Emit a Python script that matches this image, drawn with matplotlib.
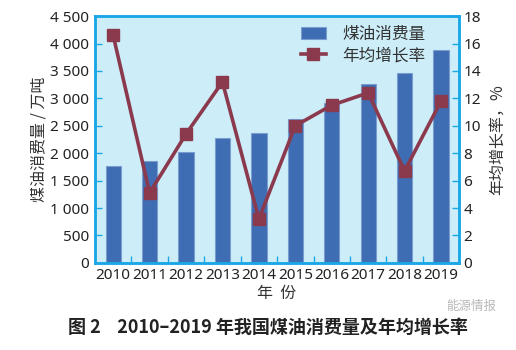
import matplotlib
matplotlib.use("Agg")
import matplotlib.pyplot as plt
from matplotlib.ticker import FuncFormatter, FixedLocator
import numpy as np

plt.rcParams['font.family'] = ['Noto Sans', 'Noto Sans CJK SC', 'DejaVu Sans']

years = ['2010', '2011', '2012', '2013', '2014', '2015', '2016', '2017', '2018', '2019']
consumption = [1760, 1850, 2030, 2280, 2370, 2620, 2920, 3260, 3470, 3880]
growth = [16.6, 5.1, 9.4, 13.2, 3.2, 10.0, 11.5, 12.4, 6.7, 11.8]

bar_color = '#3f6db3'
line_color = '#8b3a4e'
spine_color = '#1aa7e6'
bg_color = '#cdeef9'
cjk = ['Noto Sans CJK SC', 'DejaVu Sans']

fig = plt.figure(figsize=(5.16, 3.5), dpi=100)
ax = fig.add_axes([0.184, 0.249, 0.706, 0.705])
ax.set_facecolor(bg_color)
x = np.arange(len(years))

ax.bar(x, consumption, width=0.42, color=bar_color, edgecolor='#7a9dd0',
       linewidth=0.8, label='煤油消费量', zorder=2)
ax.set_xlim(-0.5, len(years) - 0.5)
ax.set_ylim(0, 4500)
ax.set_yticks(np.arange(0, 4501, 500))
ax.yaxis.set_major_formatter(FuncFormatter(lambda v, p: f"{int(v):,}".replace(',', ' ')))
ax.set_xticks(x)
ax.set_xticklabels(years)
ax.xaxis.set_minor_locator(FixedLocator(np.arange(0.5, len(years) - 1, 1)))
ax.tick_params(axis='x', which='major', length=0, labelsize=11, pad=4, labelcolor='#222222')
ax.tick_params(axis='x', which='minor', direction='in', length=5, width=1, color=spine_color)
ax.tick_params(axis='y', direction='in', length=5, width=1, color=spine_color,
               labelsize=11, pad=4, labelcolor='#222222')

ax2 = ax.twinx()
ax2.plot(x, growth, color=line_color, linewidth=2.6, marker='s', markersize=9,
         label='年均增长率', zorder=3)
ax2.set_ylim(0, 18)
ax2.set_yticks(np.arange(0, 19, 2))
ax2.tick_params(axis='y', direction='in', length=5, width=1, color=spine_color,
                labelsize=11, pad=3, labelcolor='#222222')

for a in (ax, ax2):
    for s in a.spines.values():
        s.set_color(spine_color)
        s.set_linewidth(1.8)

ax.set_ylabel('煤油消费量 / 万吨', family=cjk, fontsize=11.5, color='#333333', labelpad=2)
ax2.set_ylabel('年均增长率，%', family=cjk, fontsize=11.5, color='#333333', labelpad=6)
ax.set_xlabel('年  份', family=cjk, fontsize=11.5, color='#333333', labelpad=1)

h1, l1 = ax.get_legend_handles_labels()
h2, l2 = ax2.get_legend_handles_labels()
leg = ax2.legend(h1 + h2, l1 + l2, loc='upper right', frameon=False,
                 prop={'family': cjk, 'size': 12}, handlelength=1.5,
                 handletextpad=1.0, bbox_to_anchor=(0.935, 1.0),
                 borderaxespad=0.2, labelspacing=0.25)
for t in leg.get_texts():
    t.set_color('#333333')

fig.text(0.52, 0.065, '图 2    2010–2019 年我国煤油消费量及年均增长率',
         ha='center', va='center', fontsize=13, fontweight='bold',
         family=cjk, color='#222222')
# faint watermark just above the caption's right end
fig.text(0.865, 0.125, '能源情报', ha='left', va='center', fontsize=9,
         family=cjk, color='#9a9a9a', alpha=0.7)

fig.savefig('out.png', dpi=100)
